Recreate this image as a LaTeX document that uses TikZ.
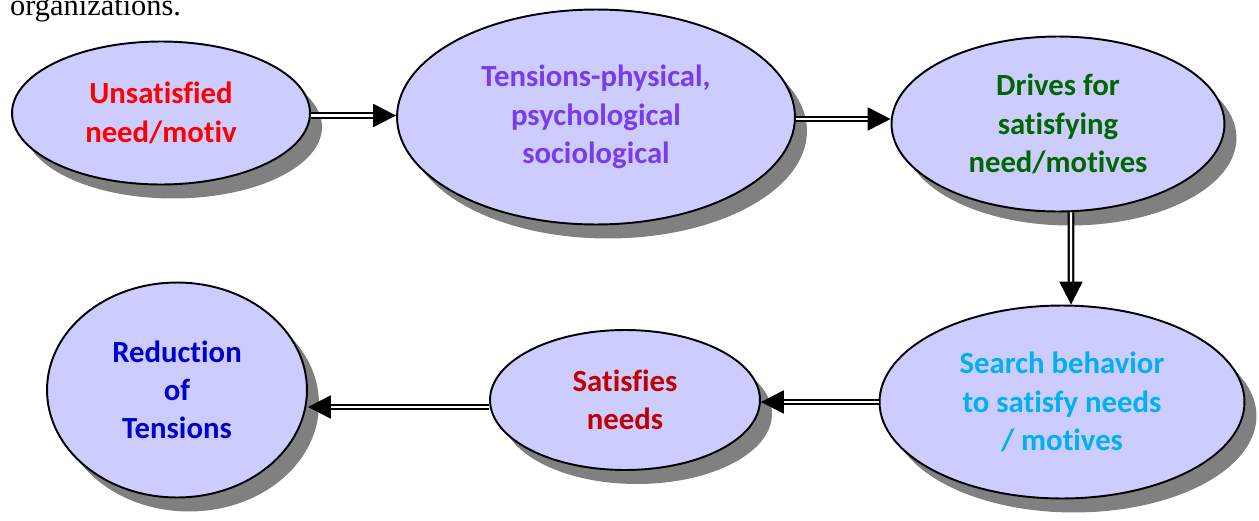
\documentclass[tikz,border=0pt]{standalone}
\usepackage{fontspec}
\setmainfont{Carlito}[Ligatures=NoCommon]
\newfontfamily\textserif{Liberation Serif}
\usepackage{tikz}
\usetikzlibrary{arrows.meta, positioning, shapes.geometric, shadows}

\definecolor{ovalfill}{RGB}{204,204,255}
\definecolor{redtxt}{RGB}{255,0,0}
\definecolor{purpletxt}{RGB}{122,60,235}
\definecolor{greentxt}{RGB}{0,102,0}
\definecolor{bluetxt}{RGB}{0,176,240}
\definecolor{darkredtxt}{RGB}{192,0,0}
\definecolor{navytxt}{RGB}{0,0,204}

\tikzset{
  oval/.style={ellipse, draw=black, line width=1.1pt, fill=ovalfill, inner sep=0pt,
    align=center, font=\fontsize{17.5}{21.8}\selectfont\bfseries,
    drop shadow={shadow xshift=0.24cm, shadow yshift=-0.28cm, opacity=1, fill=black!50}},
  flow/.style={double=white, double distance=1.3pt, line width=1.3pt,
    -{Triangle[length=13pt,width=13pt]}}
}

\begin{document}
\begin{tikzpicture}[x=0.02cm, y=-0.02cm]
				\useasboundingbox (0,0) rectangle (1259,521);
				\node[font=\fontsize{17.3}{20}\selectfont\textserif, anchor=base west] (top) at (4,15) {organizations.};
				% top row
				\node[oval, minimum width=5.96cm, minimum height=2.86cm, text=redtxt] (e1) at (161,113) {Unsatisfied\\need/motiv};
				\node[oval, minimum width=7.96cm, minimum height=4.3cm, text=purpletxt] (e2) at (596,117) {Tensions-physical,\\psychological\\sociological};
				\node[oval, minimum width=6.66cm, minimum height=3.5cm, text=greentxt] (e3) at (1058,124) {Drives for\\satisfying\\need/motives};
				% bottom row
				\node[oval, minimum width=7.3cm, minimum height=3.86cm, text=bluetxt] (e4) at (1062,402) {Search behavior\\to satisfy needs\\/ motives};
				\node[oval, minimum width=5.4cm, minimum height=2.8cm, text=darkredtxt] (e5) at (625,400) {Satisfies\\needs};
				\node[oval, minimum width=5.2cm, minimum height=4.3cm, text=navytxt] (e6) at (177,390) {Reduction\\of\\Tensions};
				% arrows
				\draw[flow] ([yshift=-0.05cm]e1.east) -- ([yshift=-0.05cm]e1.east -| e2.west);
				\draw[flow] ([yshift=-0.04cm]e2.east) -- ([yshift=-0.04cm]e2.east -| e3.west);
				\draw[flow] ([xshift=0.26cm]e3.south) -- ([xshift=0.18cm]e4.north);
				\draw[flow] (e4.west) -- (e4.west -| e5.east);
				\draw[flow] ([yshift=-0.14cm]e5.west) -- ([yshift=-0.14cm]e5.west -| e6.east);
\end{tikzpicture}
\end{document}
